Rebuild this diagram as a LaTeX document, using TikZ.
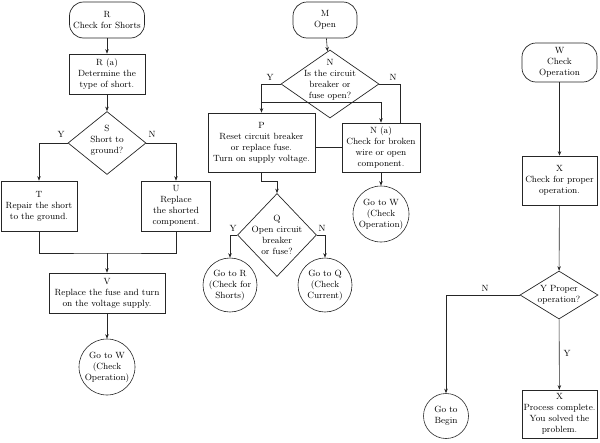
\documentclass[tikz,border=0pt]{standalone}
\usetikzlibrary{shapes.geometric,arrows.meta}
\begin{document}
\begin{tikzpicture}[x=1pt,y=-1pt,
  every node/.style={font=\fontsize{9}{11}\selectfont,align=center,inner sep=1pt},
  conn/.style={draw=black!85,line width=0.6pt},
  arr/.style={conn,-{Stealth[length=4.5pt,width=3.5pt]}},
  box/.style 2 args={draw=black!85,line width=0.7pt,minimum width=#1,minimum height=#2},
  term/.style 2 args={box={#1}{#2},rounded corners=14pt},
  dec/.style 2 args={diamond,draw=black!85,line width=0.7pt,minimum width=#1,minimum height=#2,inner sep=0pt},
  goto/.style={circle,draw=black!85,line width=0.6pt,minimum size=#1,inner sep=0pt},
  yn/.style={inner sep=0pt}]
\useasboundingbox (0,0) rectangle (600,442);

\node[term={75}{36}] (r) at (107,20) {R\\Check for Shorts};
\node[box={76}{40}] (ra) at (107,74) {R (a)\\Determine the\\type of short.};
\node[dec={78}{63},label={[yshift=3pt]center:{S\\Short to\\ground?}}] (s) at (107,143) {};
\node[box={76}{50}] (t) at (39,206) {T\\Repair the short\\to the ground.};
\node[box={69}{50}] (u) at (176,206) {U\\Replace\\the shorted\\component.};
\node[box={116}{40}] (v) at (107,293) {V\\Replace the fuse and turn\\on the voltage supply.};
\node[goto=56,label={center:{Go to W\\(Check\\Operation)}}] (gw1) at (107,367) {};
\node[yn] (sy) at (61,134) {Y};
\node[yn] (sn) at (152,134) {N};

\node[term={64}{36}] (m) at (325,20) {M\\Open};
\node[dec={98}{68},label={[yshift=4pt]center:{N\\Is the circuit\\breaker or\\fuse open?}}] (n) at (330,84) {};
\node[box={107}{59}] (p) at (261.5,142.5) {P\\Reset circuit breaker\\or replace fuse.\\Turn on supply voltage.};
\node[box={78}{49}] (na) at (381,147.5) {N (a)\\Check for broken\\wire or open\\component.};
\node[dec={79}{83},label={center:{Q\\Open circuit\\breaker\\or fuse?}}] (q) at (277,235) {};
\node[goto=54,label={center:{Go to R\\(Check for\\Shorts)}}] (gr) at (230,285) {};
\node[goto=54,label={center:{Go to Q\\(Check\\Current)}}] (gq) at (325,285) {};
\node[goto=56,label={center:{Go to W\\(Check\\Operation)}}] (gw2) at (381,214) {};
\node[yn] (ny) at (270,77) {Y};
\node[yn] (nn) at (393,77) {N};
\node[yn] (qy) at (233,228) {Y};
\node[yn] (qn) at (322,228) {N};

\node[term={75}{39}] (w) at (559.5,62.5) {W\\Check\\Operation};
\node[box={75}{49}] (x1) at (559.5,180.5) {X\\Check for proper\\operation.};
\node[dec={78}{48},label={center:{Y Proper\\operation?}}] (y) at (559,295) {};
\node[goto=45,label={center:{Go to\\Begin}}] (gb) at (446,416) {};
\node[box={75}{48}] (x2) at (559.5,414) {X\\Process complete.\\You solved the\\problem.};
\node[yn] (yn1) at (485,288) {N};
\node[yn] (yy1) at (567,353) {Y};

\coordinate (tu) at (107,253);
\coordinate (pn) at (261.5,102);

\draw[arr] (r) -- (ra);
\draw[arr] (ra) -- (s);
\draw[arr] (s.west) -| (t.north);
\draw[arr] (s.east) -| (u.north);
\draw[conn] (t.south) |- (tu) -| (u.south);
\draw[arr] (tu) -- (v);
\draw[arr] (v) -- (gw1);

\draw[arr] (m) -- (n);
\draw[arr] (n.west) -| (p.north);
\draw[arr] (pn) -| (na.north);
\draw[conn] (n.east) -| ([xshift=19pt]na.north);
\draw[conn] (p.east |- na.west) -- (na.west);
\draw[arr] (p.south) -- ++(0,9) -| (q.north);
\draw[arr] (q.west) -| (gr.north);
\draw[arr] (q.east) -| (gq.north);
\draw[arr] (na) -- (gw2);

\draw[arr] (w) -- (x1);
\draw[arr] (x1) -- (y);
\draw[arr] (y.west) -| (gb.north);
\draw[arr] (y) -- (x2);
\end{tikzpicture}
\end{document}
